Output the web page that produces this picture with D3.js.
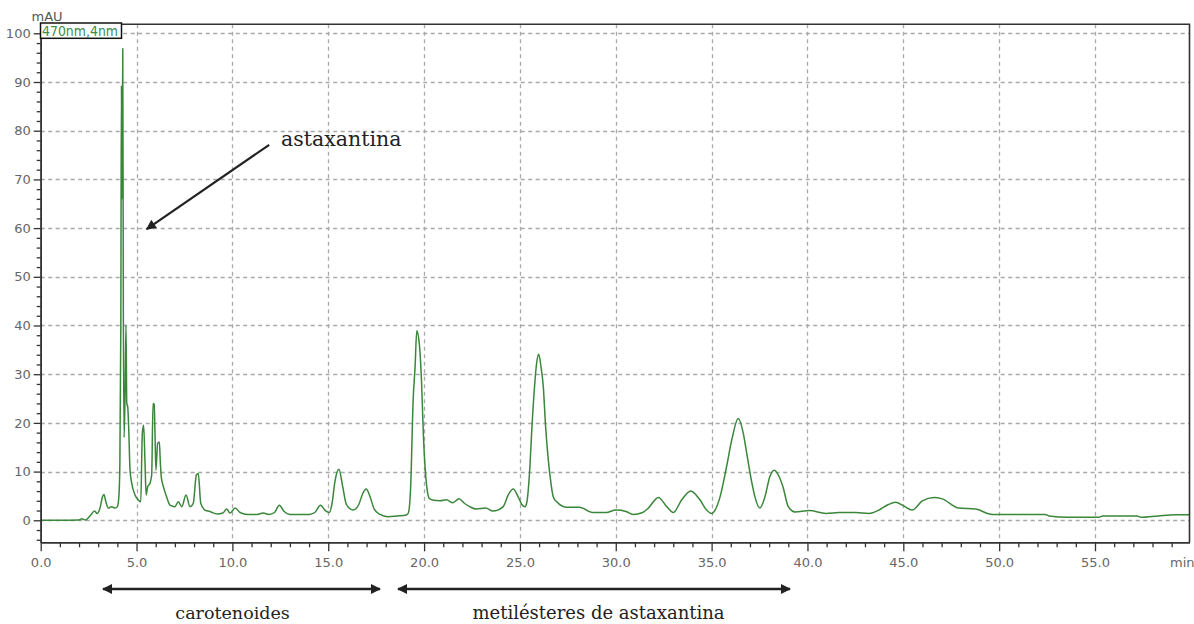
<!DOCTYPE html>
<html>
<head>
<meta charset="utf-8">
<script src="https://cdn.jsdelivr.net/npm/d3@7"></script>
<style>
  html, body { margin: 0; padding: 0; background: #fff; }
  svg { display: block; }
</style>
</head>
<body>
<svg id="chart" width="1194" height="624"></svg>
<script>
// Chromatogram at 470 nm: retention time (min) and detector response (mAU)
const retentionTime = [
  0.00, 1.00, 2.00, 2.15, 2.33, 2.59, 2.81, 2.94, 3.10, 3.22, 3.30, 3.40, 3.53, 3.70, 3.88, 4.00,
  4.08, 4.13, 4.18, 4.21, 4.24, 4.28, 4.31, 4.35, 4.40, 4.45, 4.49, 4.54, 4.59, 4.66, 4.75, 4.92,
  5.09, 5.22, 5.30, 5.37, 5.44, 5.50, 5.58, 5.70, 5.79, 5.86, 5.92, 5.96, 6.01, 6.10, 6.19, 6.24,
  6.29, 6.40, 6.57, 6.75, 7.00, 7.18, 7.36, 7.58, 7.79, 7.96, 8.12, 8.22, 8.35, 8.57, 8.83, 9.20,
  9.50, 9.70, 9.88, 10.14, 10.40, 10.80, 11.30, 11.60, 11.90, 12.20, 12.45, 12.70, 13.00, 14.00,
  14.30, 14.60, 14.85, 15.05, 15.20, 15.35, 15.56, 15.75, 15.95, 16.30, 16.60, 16.80, 16.98, 17.15,
  17.40, 17.70, 18.10, 18.60, 19.08, 19.18, 19.30, 19.43, 19.53, 19.62, 19.75, 19.87, 19.96, 20.05,
  20.14, 20.27, 20.50, 20.82, 21.17, 21.50, 21.82, 22.10, 22.38, 22.73, 23.21, 23.60, 24.13, 24.39,
  24.65, 24.91, 25.09, 25.26, 25.35, 25.52, 25.61, 25.75, 25.87, 25.98, 26.10, 26.22, 26.34, 26.48,
  26.62, 26.74, 26.92, 27.42, 28.10, 28.80, 29.50, 30.00, 30.54, 30.90, 31.40, 31.70, 32.22, 32.66,
  33.00, 33.44, 33.91, 34.39, 34.74, 35.00, 35.09, 35.44, 35.78, 36.05, 36.39, 36.65, 36.83, 37.09,
  37.26, 37.52, 37.78, 38.04, 38.27, 38.48, 38.72, 39.00, 39.35, 40.10, 40.96, 41.65, 42.52, 43.21,
  43.73, 44.20, 44.60, 45.00, 45.47, 45.99, 46.60, 47.03, 47.90, 48.77, 49.64, 52.40, 52.60, 53.60,
  55.20, 55.40, 57.20, 57.40, 58.30, 59.20, 59.93
];
const absorbance = [
  0.0, 0.0, 0.05, 0.3, 0.05, 1.0, 1.9, 1.4, 2.6, 4.8, 5.3, 3.8, 2.5, 2.8, 2.5, 2.8,
  5.0, 11.7, 40.0, 89.3, 66.0, 96.9, 45.0, 17.0, 26.0, 40.1, 24.0, 23.3, 19.0, 10.3, 7.6, 5.2,
  4.2, 3.8, 17.8, 19.5, 12.0, 5.2, 6.9, 7.6, 9.3, 24.0, 23.8, 18.4, 10.3, 15.8, 16.1, 12.0,
  8.9, 6.9, 4.8, 3.1, 2.8, 3.8, 2.8, 5.2, 2.8, 3.5, 9.3, 9.6, 3.5, 2.1, 1.8, 1.3,
  1.5, 2.3, 1.5, 2.5, 1.6, 1.2, 1.2, 1.5, 1.2, 1.6, 3.1, 1.8, 1.2, 1.2,
  1.6, 3.1, 2.0, 1.6, 3.5, 8.0, 10.5, 7.0, 3.2, 2.1, 3.3, 5.5, 6.4, 5.2,
  2.3, 1.2, 0.75, 0.9, 1.1, 1.5, 6.9, 24.7, 31.5, 38.9, 36.3, 28.2, 17.9, 11.0,
  6.9, 4.5, 4.1, 4.0, 4.2, 3.6, 4.4, 3.5, 2.8, 2.3, 2.5, 1.9, 2.8, 5.2,
  6.4, 4.8, 3.3, 2.8, 3.5, 11.0, 17.9, 26.8, 32.2, 34.1, 31.5, 27.4, 19.2, 12.4,
  7.6, 4.8, 3.8, 2.7, 2.7, 1.6, 1.6, 2.1, 1.8, 1.2, 1.6, 2.5, 4.7, 2.8,
  1.6, 4.2, 6.0, 4.2, 2.1, 1.4, 1.6, 4.8, 11.0, 16.5, 20.9, 17.9, 13.8, 7.9,
  4.8, 2.5, 4.8, 9.0, 10.3, 9.3, 6.9, 2.8, 1.7, 2.0, 1.4, 1.6, 1.6, 1.4,
  2.1, 3.2, 3.7, 3.0, 2.1, 4.0, 4.7, 4.4, 2.5, 2.3, 1.2, 1.2, 0.9, 0.6,
  0.6, 0.9, 0.9, 0.6, 0.9, 1.15, 1.15
];

// Axis ticks
const xMajorTicks = [0, 5, 10, 15, 20, 25, 30, 35, 40, 45, 50, 55];
const yMajorTicks = [0, 10, 20, 30, 40, 50, 60, 70, 80, 90, 100];
const xUnit = "min";
const yUnit = "mAU";
const channelLabel = "470nm,4nm";

// Annotations
const peakNote = "astaxantina";
const peakNoteFrom = [11.92, 77.1];   // [min, mAU] tail of the pointer
const peakNoteTo = [5.53, 59.8];      // [min, mAU] tip of the pointer
const groupLabels = ["carotenoides", "metilésteres de astaxantina"];
const groupStart = [3.25, 18.64];     // min
const groupEnd = [17.70, 39.09];      // min
const groupLabelAt = [10.01, 29.10];  // min, centre of each label

const svg = d3.select("#chart");
const x = d3.scaleLinear().domain([0, 59.93]).range([40.7, 1189.5]);
const y = d3.scaleLinear().domain([-4.52, 101.85]).range([542.3, 24.3]);

const [x0, x1] = x.range();
const [yb, yt] = y.range();

const defs = svg.append("defs");
defs.append("marker")
  .attr("id", "head")
  .attr("viewBox", "0 0 10 10")
  .attr("refX", 9).attr("refY", 5)
  .attr("markerUnits", "userSpaceOnUse")
  .attr("markerWidth", 13).attr("markerHeight", 10)
  .attr("orient", "auto-start-reverse")
  .append("path").attr("d", "M0,0L10,5L0,10z").attr("fill", "#222");

// Dashed grid
const grid = svg.append("g")
  .attr("stroke", "#a9a9a9").attr("stroke-width", 1.3).attr("stroke-dasharray", "4,3.5");
grid.selectAll("line.h").data(yMajorTicks).join("line").attr("class", "h")
  .attr("x1", x0).attr("x2", x1)
  .attr("y1", d => Math.round(y(d)) + 0.5).attr("y2", d => Math.round(y(d)) + 0.5);
grid.selectAll("line.v").data(xMajorTicks.filter(d => d > 0)).join("line").attr("class", "v")
  .attr("x1", d => Math.round(x(d)) + 0.5).attr("x2", d => Math.round(x(d)) + 0.5)
  .attr("y1", yt).attr("y2", yb);

// Signal trace
const trace = retentionTime.map((t, i) => [t, absorbance[i]]);
svg.append("path")
  .datum(trace)
  .attr("fill", "none")
  .attr("stroke", "#3a863a")
  .attr("stroke-width", 1.5)
  .attr("stroke-linejoin", "round")
  .attr("d", d3.line().x(d => x(d[0])).y(d => y(d[1])).curve(d3.curveMonotoneX));

// Frame (top and right edges)
svg.append("path")
  .attr("d", `M${x0},${yt}H${x1}V${yb}`)
  .attr("fill", "none").attr("stroke", "#333").attr("stroke-width", 1.6);

// Axes
function styleAxis(g) {
  g.attr("font-family", "'DejaVu Sans', sans-serif").attr("font-size", 13);
  g.selectAll("path.domain").attr("stroke", "#333").attr("stroke-width", 1.6);
  g.selectAll(".tick line").attr("stroke", "#333").attr("stroke-width", 1.3);
  g.selectAll(".tick text").attr("fill", "#666");
}

const yMinor = d3.range(-4, 101, 2).filter(d => d % 10 !== 0);
svg.append("g").attr("transform", `translate(${x0},0)`)
  .call(d3.axisLeft(y).tickValues(yMinor).tickSize(4).tickFormat("").tickSizeOuter(0))
  .call(styleAxis);
svg.append("g").attr("transform", `translate(${x0},0)`)
  .call(d3.axisLeft(y).tickValues(yMajorTicks).tickSize(7).tickPadding(3).tickSizeOuter(0))
  .call(styleAxis);

const xMinor = d3.range(1, 60, 1).filter(d => d % 5 !== 0);
svg.append("g").attr("transform", `translate(0,${yb})`)
  .call(d3.axisBottom(x).tickValues(xMinor).tickSize(5).tickFormat("").tickSizeOuter(0))
  .call(styleAxis);
svg.append("g").attr("transform", `translate(0,${yb})`)
  .call(d3.axisBottom(x).tickValues(xMajorTicks).tickSize(9).tickPadding(6)
    .tickFormat(d3.format(".1f")).tickSizeOuter(0))
  .call(styleAxis);

// Unit labels
svg.append("text").attr("x", 1170).attr("y", 566.5)
  .attr("font-family", "'DejaVu Sans', sans-serif").attr("font-size", 13)
  .attr("fill", "#666").text(xUnit);
svg.append("text").attr("x", 31.5).attr("y", 21)
  .attr("font-family", "'DejaVu Sans', sans-serif").attr("font-size", 13)
  .attr("fill", "#555").text(yUnit);

// Channel legend
svg.append("rect").attr("x", 40.5).attr("y", 23).attr("width", 81).attr("height", 15.3)
  .attr("fill", "#fff").attr("stroke", "#111").attr("stroke-width", 1.5);
svg.append("text").attr("x", 42).attr("y", 36.2)
  .attr("font-family", "'DejaVu Sans', sans-serif").attr("font-size", 13.5)
  .attr("textLength", 76).attr("lengthAdjust", "spacingAndGlyphs")
  .attr("fill", "#3e8e3e").text(channelLabel);

// Peak pointer
svg.append("line")
  .attr("x1", x(peakNoteFrom[0])).attr("y1", y(peakNoteFrom[1]))
  .attr("x2", x(peakNoteTo[0])).attr("y2", y(peakNoteTo[1]))
  .attr("stroke", "#222").attr("stroke-width", 2.2).attr("marker-end", "url(#head)");
svg.append("text")
  .attr("x", x(12.54)).attr("y", y(76.9))
  .attr("font-family", "'DejaVu Serif', serif").attr("font-size", 20.5)
  .attr("fill", "#222").text(peakNote);

// Compound groups below the time axis
const groups = svg.append("g");
groupLabels.forEach((label, i) => {
  const a = x(groupStart[i]), b = x(groupEnd[i]);
  groups.append("line")
    .attr("x1", a).attr("x2", b).attr("y1", 589).attr("y2", 589)
    .attr("stroke", "#222").attr("stroke-width", 2.5)
    .attr("marker-start", "url(#head)").attr("marker-end", "url(#head)");
  groups.append("text")
    .attr("x", x(groupLabelAt[i])).attr("y", 618.5).attr("text-anchor", "middle")
    .attr("font-family", "'DejaVu Serif', serif").attr("font-size", i === 0 ? 17.5 : 18)
    .attr("fill", "#222").text(label);
});
</script>
</body>
</html>
